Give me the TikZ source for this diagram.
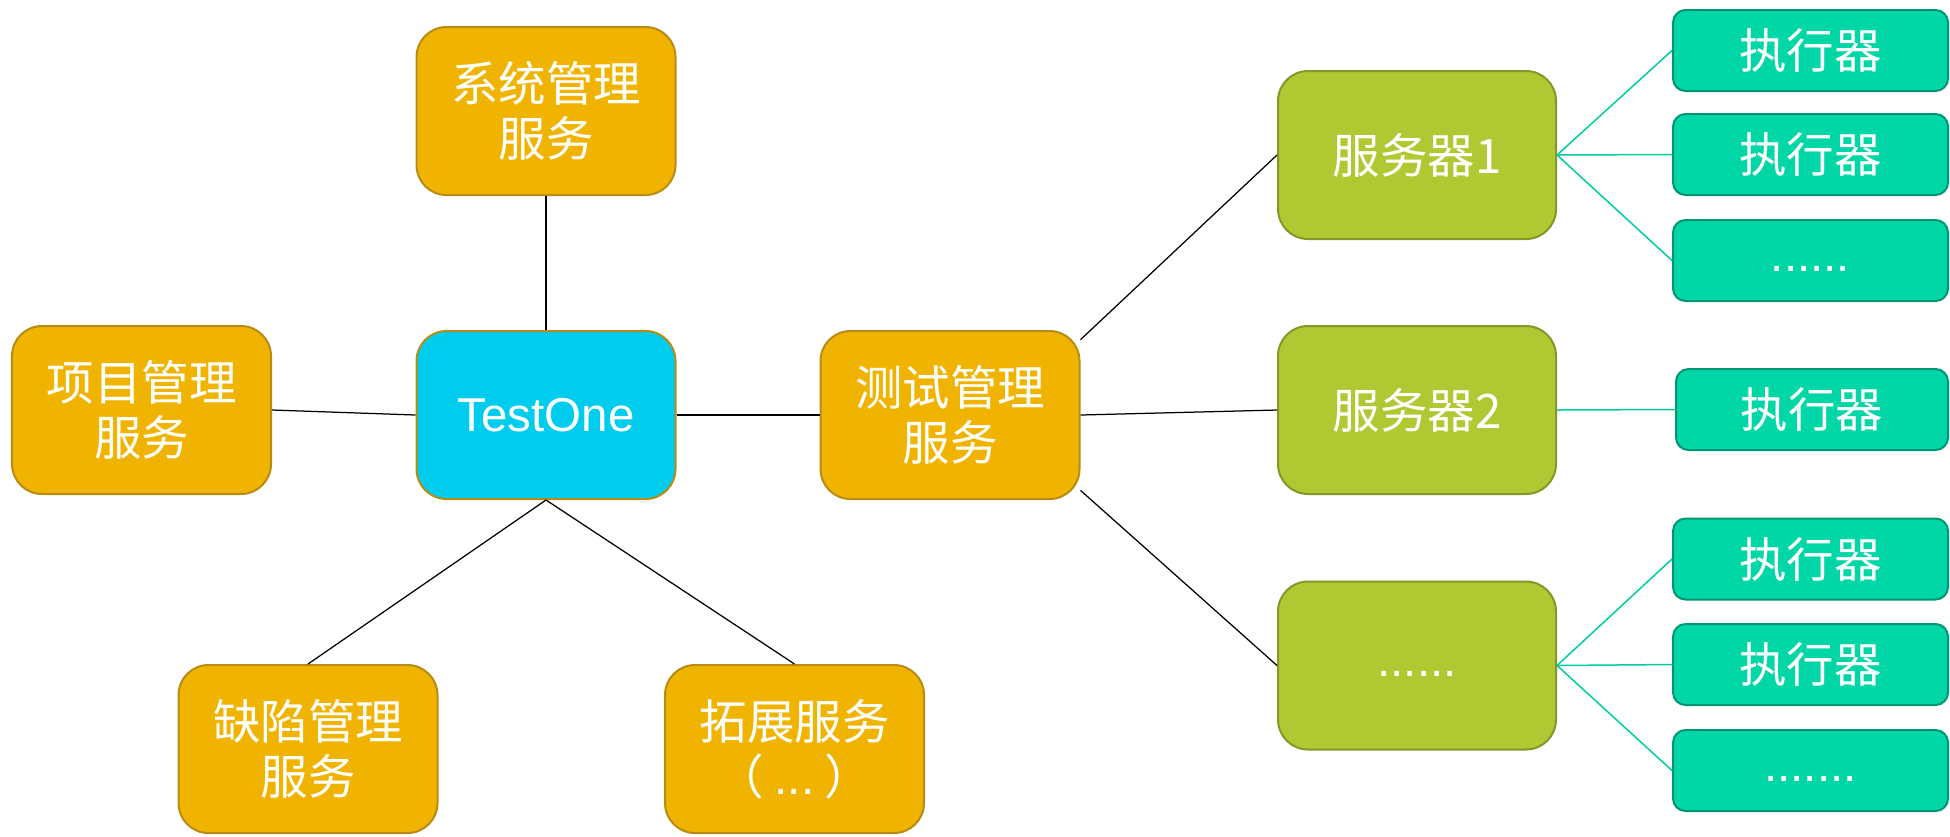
\documentclass[tikz,border=0pt]{standalone}
\usepackage{fontspec}
\setmainfont{Liberation Sans}
\newfontfamily\cjk{Noto Sans CJK SC}

\definecolor{svcfill}{RGB}{240,180,0}
\definecolor{svcline}{RGB}{184,140,20}
\definecolor{corefill}{RGB}{0,204,238}
\definecolor{srvfill}{RGB}{176,200,50}
\definecolor{srvline}{RGB}{135,150,40}
\definecolor{exefill}{RGB}{0,214,166}
\definecolor{exeline}{RGB}{0,150,115}
\definecolor{exelink}{RGB}{0,204,160}

\tikzset{every picture/.style={line width=0.75pt}}
\tikzset{
  box/.style={draw, line width=0.8pt, rounded corners=12pt, text=white, align=center,
    minimum width=103.6pt, minimum height=67.2pt, inner sep=0pt,
    font=\cjk\fontsize{19}{22}\selectfont},
  svcbox/.style={box, fill=svcfill, draw=svcline},
  corebox/.style={box, fill=corefill, draw=svcline, font=\fontsize{19}{22}\selectfont},
  srvbox/.style={box, fill=srvfill, draw=srvline, minimum width=111.2pt},
  exebox/.style={box, fill=exefill, draw=exeline, rounded corners=5pt,
    minimum width=110pt, minimum height=32.4pt},
  link/.style={draw=black, line width=0.5pt},
  exelinkline/.style={draw=exelink, line width=0.6pt}
}
\newcommand{\moredots}[1]{{\rmfamily\strut #1}}

\begin{document}
\begin{tikzpicture}[x=0.4pt,y=0.4pt,yscale=-1,xscale=1]
\useasboundingbox (0,0) rectangle (1950,836);

%Shape: Rounded Rect [id:core]
\node [corebox] (core) at (546,415) {TestOne};
%Shape: Rounded Rect [id:sys]
\node [svcbox] (sys) at (546,111) {系统管理\\服务};
%Shape: Rounded Rect [id:proj]
\node [svcbox] (proj) at (141.5,410) {项目管理\\服务};
%Shape: Rounded Rect [id:test]
\node [svcbox] (test) at (950,415) {测试管理\\服务};
%Shape: Rounded Rect [id:bug]
\node [svcbox] (bug) at (308,749) {缺陷管理\\服务};
%Shape: Rounded Rect [id:ext]
\node [svcbox] (ext) at (794.5,749) {拓展服务\\（\ {\rmfamily ...}\ ）};

%Shape: Rounded Rect [id:srv1]
\node [srvbox] (srv1) at (1417,155) {服务器1};
%Shape: Rounded Rect [id:srv2]
\node [srvbox] (srv2) at (1417,410) {服务器2};
%Shape: Rounded Rect [id:srv3]
\node [srvbox] (srv3) at (1417,665.5) {\moredots{......}};

%Shape: Rounded Rect [id:exe11]
\node [exebox] (exe11) at (1810.5,50.5) {执行器};
%Shape: Rounded Rect [id:exe12]
\node [exebox] (exe12) at (1810.5,154.5) {执行器};
%Shape: Rounded Rect [id:exe13]
\node [exebox] (exe13) at (1810.5,260.5) {\moredots{......}};
%Shape: Rounded Rect [id:exe21]
\node [exebox, minimum width=108.8pt] (exe21) at (1812,409.5) {执行器};
%Shape: Rounded Rect [id:exe31]
\node [exebox] (exe31) at (1810.5,559) {执行器};
%Shape: Rounded Rect [id:exe32]
\node [exebox] (exe32) at (1810.5,664.5) {执行器};
%Shape: Rounded Rect [id:exe33]
\node [exebox] (exe33) at (1810.5,770.5) {\moredots{.......}};

%Straight Lines
\draw [link] (sys) -- (core);
\draw [link] (proj.east) -- (core.west);
\draw [link] (core) -- (test);
\draw [link] (core.south) -- (bug.north);
\draw [link] (core.south) -- (ext.north);
\draw [link] (test.30) -- (srv1.west);
\draw [link] (test.east) -- (srv2.west);
\draw [link] (test.-30) -- (srv3.west);

%Straight Lines
\draw [exelinkline] (srv1.east) -- (exe11.west);
\draw [exelinkline] (srv1.east) -- (exe12.west);
\draw [exelinkline] (srv1.east) -- (exe13.west);
\draw [exelinkline] (srv2.east) -- (exe21.west);
\draw [exelinkline] (srv3.east) -- (exe31.west);
\draw [exelinkline] (srv3.east) -- (exe32.west);
\draw [exelinkline] (srv3.east) -- (exe33.west);

\end{tikzpicture}
\end{document}
